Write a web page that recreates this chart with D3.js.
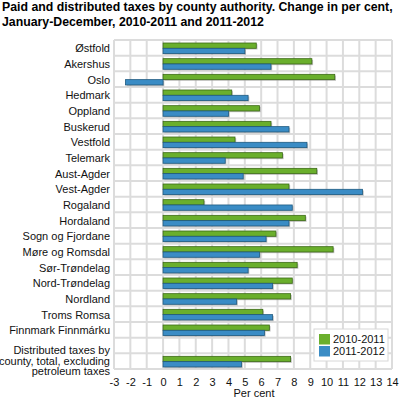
<!DOCTYPE html>
<html>
<head>
<meta charset="utf-8">
<script src="https://cdn.jsdelivr.net/npm/d3@7"></script>
<style>
body { margin: 0; background: #fff; }
svg { display: block; }
svg text { font-family: 'Liberation Sans', Arial, Helvetica, sans-serif; }
</style>
</head>
<body>
<svg id="chart" width="399" height="402"></svg>
<script>
const categories = ["Østfold","Akershus","Oslo","Hedmark","Oppland","Buskerud","Vestfold","Telemark","Aust-Agder","Vest-Agder","Rogaland","Hordaland","Sogn og Fjordane","Møre og Romsdal","Sør-Trøndelag","Nord-Trøndelag","Nordland","Troms Romsa","Finnmark Finnmárku","","Distributed taxes by|county, total, excluding|petroleum taxes"];
const series2010_2011 = [5.7,9.1,10.5,4.2,5.9,6.6,4.4,7.3,9.4,7.7,2.5,8.7,6.9,10.4,8.2,7.9,7.8,6.1,6.5,null,7.8];
const series2011_2012 = [5.0,6.6,-2.3,5.2,4.0,7.7,8.8,3.8,4.9,12.2,7.9,7.7,6.3,5.9,5.2,6.7,4.5,6.7,6.2,null,4.8];
const seriesNames = ["2010-2011","2011-2012"];
const xTicks = [-3,-2,-1,0,1,2,3,4,5,6,7,8,9,10,11,12,13,14];
const title = ["Paid and distributed taxes by county authority. Change in per cent,","January-December, 2010-2011 and 2011-2012"];
const xLabel = "Per cent";

const colors = ["#6aaf2c","#3a8cc5"];
const strokes = ["#3c6a17","#1f5a80"];
const FONT = "'Liberation Sans', Arial, Helvetica, sans-serif";

const svg = d3.select("#chart");
const mLeft = 114, mRight = 392, mTop = 40, mBottom = 369;

const x = d3.scaleLinear().domain([-3,14]).range([mLeft,mRight]);
const y = d3.scaleBand().domain(d3.range(categories.length)).range([mTop,mBottom]);

svg.append("g").selectAll("text").data(title).join("text")
  .attr("x",2).attr("y",(d,i)=>10.5+i*15)
  .attr("font-family",FONT)
  .attr("font-size",12.3).attr("font-weight","bold").attr("fill","#000")
  .text(d=>d);

const grid = svg.append("g");
grid.selectAll("line.v").data(xTicks).join("line").attr("class","v")
  .attr("x1",d=>x(d)).attr("x2",d=>x(d)).attr("y1",mTop).attr("y2",mBottom)
  .attr("stroke","#dcdcdc").attr("stroke-width",2);
grid.selectAll("line.h").data(d3.range(categories.length+1)).join("line").attr("class","h")
  .attr("x1",mLeft).attr("x2",mRight)
  .attr("y1",d=>mTop+d*y.step()).attr("y2",d=>mTop+d*y.step())
  .attr("stroke","#dcdcdc").attr("stroke-width",2);

const bh = 5.3;
const seriesData = [series2010_2011, series2011_2012];
const barsG = svg.append("g");
seriesData.forEach((vals,s)=>{
  const data = vals.map((v,i)=>({v,i})).filter(d=>d.v!==null);
  barsG.append("g").selectAll("rect").data(data).join("rect")
    .attr("x",d=>Math.min(x(0),x(d.v))+1.2)
    .attr("y",d=>y(d.i)+3+s*bh+1.2)
    .attr("width",d=>Math.abs(x(d.v)-x(0)))
    .attr("height",bh)
    .attr("fill","#999").attr("opacity",0.6);
  barsG.append("g").selectAll("rect").data(data).join("rect")
    .attr("x",d=>Math.min(x(0),x(d.v)))
    .attr("y",d=>y(d.i)+3+s*bh)
    .attr("width",d=>Math.abs(x(d.v)-x(0)))
    .attr("height",bh)
    .attr("fill",colors[s]).attr("stroke",strokes[s]).attr("stroke-width",0.8);
});

const lab = svg.append("g");
categories.forEach((c,i)=>{
  const lines = c.split("|");
  const cy = y(i)+y.bandwidth()/2 + 0.5;
  const lh = 10.5;
  lines.forEach((t,j)=>{
    lab.append("text")
      .attr("x",110).attr("y",cy + (j-(lines.length-1)/2)*lh - (lines.length>1?1:0))
      .attr("dy","0.35em").attr("text-anchor","end")
      .attr("font-family",FONT)
      .attr("font-size",11).attr("fill","#111").text(t);
  });
});

const xAxis = d3.axisBottom(x).tickValues(xTicks).tickSize(0).tickPadding(9).tickFormat(d=> d<0 ? "-"+Math.abs(d) : String(d));
const ax = svg.append("g").attr("transform",`translate(0,${mBottom})`).call(xAxis);
ax.attr("font-family",FONT).attr("font-size",11);
ax.select(".domain").remove();
ax.selectAll("text").attr("fill","#111");

svg.append("text").attr("x",(x(5)+x(6))/2+1).attr("y",397)
  .attr("font-family",FONT)
  .attr("text-anchor","middle").attr("font-size",11).attr("fill","#111").text(xLabel);

const lg = svg.append("g");
lg.append("rect").attr("x",314).attr("y",329).attr("width",74).attr("height",32)
  .attr("fill","#fff").attr("stroke","#d8d8d8");
seriesNames.forEach((n,i)=>{
  lg.append("rect").attr("x",319).attr("y",334+i*12).attr("width",11).attr("height",10.5)
    .attr("fill",colors[i]);
  lg.append("text").attr("x",333).attr("y",339.5+i*12).attr("dy","0.35em")
    .attr("font-family",FONT)
    .attr("font-size",11).attr("fill","#111").text(n);
});
</script>
</body>
</html>
